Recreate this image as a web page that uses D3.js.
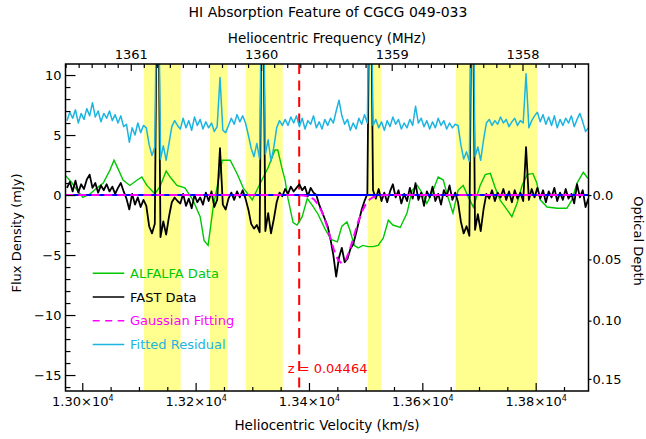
<!DOCTYPE html>
<html><head><meta charset="utf-8">
<script src="https://cdn.jsdelivr.net/npm/d3@7/dist/d3.min.js"></script>
<style>body{margin:0;background:#fff}svg text{font-family:"DejaVu Sans",sans-serif}</style>
</head><body><svg id="c" width="646" height="439"></svg>
<script>
// ---------- data ----------
const velStart = 12973, velStep = 5;   // FAST channel grid (km/s)
const fastFlux = [
 0.6,1.1,0.3,1.2,0.2,0.9,0.5,1.3,1.7,0.6,
 1.0,0.2,0.8,0.4,0.9,0.3,0.7,0.1,0.6,1.0,
 0.3,-0.3,-1.2,0.1,-0.8,-0.2,-1.0,-0.4,-0.9,-2.6,
 -3.2,-2.4,25,-3.5,-2.2,-3.3,-1.8,-0.6,-0.2,-0.5,
 -0.7,0.1,-0.9,-0.3,-1.1,0.0,-0.6,-0.2,-0.8,0.2,
 -0.5,0.3,-1.0,-0.4,3.9,-0.8,-1.2,-0.3,0.2,-0.4,
 0.3,-0.2,0.4,-0.3,-1.2,-2.4,-2.8,-2.5,-3.1,25,
 -3.0,-1.5,-3.2,-2.0,-0.6,0.2,-0.1,0.5,0.1,0.7,
 0.3,0.6,0.9,0.4,0.7,-0.1,0.6,0.2,0.0,-0.8,
 -1.4,-2.0,-2.6,-3.7,-5.0,-6.8,-5.2,-4.4,-5.6,-5.3,
 -4.5,-4.1,-3.2,-2.2,-1.2,-0.5,0.1,25,0.4,-0.3,
 0.5,-0.5,0.2,-0.6,0.3,0.9,-0.2,0.4,-0.7,0.1,
 -0.5,0.6,-0.3,1.0,-0.4,0.2,-0.9,0.3,-0.2,0.7,
 -0.5,0.1,-0.8,0.4,-0.1,0.8,-0.4,0.2,-0.6,-2.2,
 -3.2,-2.6,-3.4,25,-2.9,-1.6,-3.0,-1.2,0.1,-0.3,
 0.4,-0.5,0.2,-0.2,0.5,-0.4,0.3,-0.6,0.4,-0.3,
 0.2,-0.5,4.0,-0.4,0.5,-0.2,0.6,-0.3,0.4,-0.6,
 0.3,-0.2,0.6,-0.5,0.2,-0.4,0.5,-0.3,0.1,-0.7,
 0.9,-0.2,0.4,-1.0,-0.3];
const residualFlux = [
 6.2,6.9,6.4,7.1,6.0,6.8,6.3,7.2,6.6,7.7,
 6.5,7.0,6.1,6.8,6.4,7.0,6.2,6.7,6.0,6.6,
 5.7,5.9,4.4,5.6,5.0,6.0,5.2,5.8,5.6,4.2,
 3.3,4.0,25,3.0,4.1,2.9,4.3,5.7,6.2,5.8,
 5.5,6.4,5.6,6.2,5.4,6.5,5.8,6.3,5.5,6.1,
 5.6,6.0,5.3,5.7,9.8,5.4,5.2,5.8,6.4,5.9,
 6.7,6.1,6.6,6.0,5.0,3.9,3.2,4.3,3.0,25,
 3.4,4.6,2.8,4.0,5.6,6.2,5.8,6.3,5.8,6.5,
 6.0,6.6,5.7,6.4,5.5,6.2,5.9,6.6,5.6,6.1,
 5.5,6.3,5.8,6.4,6.0,7.0,7.9,6.6,5.9,6.3,
 5.4,6.0,5.5,6.4,5.9,6.7,6.0,25,5.8,6.3,
 5.6,6.1,5.4,6.2,5.7,6.5,5.9,6.3,5.5,6.0,
 5.6,6.3,5.8,7.4,6.0,6.4,5.7,6.2,5.5,6.1,
 5.6,6.4,5.8,6.2,5.5,6.0,5.6,5.9,5.8,4.2,
 3.0,3.6,2.8,25,3.2,4.0,2.9,4.6,6.0,6.3,
 5.8,6.2,5.9,6.5,6.0,6.3,5.7,6.1,6.4,5.8,
 6.2,6.0,10.1,5.6,6.2,6.6,6.9,6.1,6.7,5.9,
 6.5,5.8,6.6,5.6,6.3,5.8,6.4,6.0,6.6,5.7,
 6.3,6.8,6.1,5.3,5.6];
const alfalfaVel = [12971,12982,12991,13001,13014,13026,13037,13049,13056,13063,
 13072,13084,13097,13105,13114,13128,13137,13148,13155,13167,
 13181,13195,13208,13215,13222,13231,13247,13261,13273,13284,
 13292,13300,13308,13317,13328,13340,13345,13352,13358,13363,
 13372,13379,13388,13397,13405,13416,13428,13439,13450,13458,
 13467,13472,13480,13487,13495,13504,13513,13522,13531,13540,
 13548,13561,13573,13582,13591,13600,13608,13617,13628,13637,
 13645,13654,13663,13672,13681,13690,13702,13711,13720,13728,
 13737,13750,13758,13767,13776,13785,13795,13802,13808,13820,
 13838,13855,13864,13873,13884,13892];
const alfalfaFlux = [1.6,1.0,0.4,-0.2,0.1,0.6,1.0,2.1,2.9,2.2,
 1.25,0.8,1.25,1.5,0.8,0.1,0.7,2.0,1.5,0.8,
 0.6,-0.4,-1.8,-3.8,-4.2,-1.0,2.9,2.9,1.8,0.6,
 0.1,-0.4,0.4,1.25,2.3,3.75,3.75,2.3,1.2,-0.3,
 -2.3,-2.5,-1.8,-0.3,-0.8,-1.6,-2.8,-3.7,-3.9,-2.6,
 -2.25,-2.9,-4.2,-4.4,-4.2,-4.3,-4.3,-4.2,-3.6,-2.1,
 -2.5,-2.7,-1.5,0.4,0.8,0.15,-0.7,0.15,1.5,1.25,
 -0.15,-1.5,0.4,0.8,-0.15,-1.0,0.8,1.7,1.8,0.7,
 -0.4,-1.25,-1.8,-0.7,0.8,1.7,1.8,1.0,-0.4,-1.0,
 -1.1,-1.1,-0.4,1.0,1.9,1.4];
const gaussVel = [12970,13379,13391,13402,13409,13416,13423,13430,13437,13444,13451,13458,
 13465,13472,13479,13486,13493,13500,13507,13514,13525,13537,13895];
const gaussFlux = [0,0,-0.04,-0.16,-0.37,-0.77,-1.42,-2.34,-3.46,-4.56,-5.39,-5.7,
 -5.39,-4.56,-3.46,-2.34,-1.42,-0.77,-0.37,-0.16,-0.04,0,0];
const rfiStart = [13108.9,13225.4,13288.4,13503.6,13659.5];
const rfiEnd   = [13173.6,13256.6,13353.6,13527.1,13802.9];
const velTicks = [13000,13200,13400,13600,13800];
const freqTicks = [1361,1360,1359,1358];
const fluxTicks = [10,5,0,-5,-10,-15];
const tauTicks = [0,0.05,0.10,0.15];
const tauLabels = ["0.0","0.05","0.10","0.15"];
const zSys = 0.04464;
const continuum = 110; // mJy, continuum flux used for optical depth axis
const legendNames = ["ALFALFA Data","FAST Data","Gaussian Fitting","Fitted Residual"];

// ---------- layout ----------
const L=65.5,R=588.5,T=64,B=391;
const C_KMS=299792.458, F0=1420.405751;
const freqToVel = f => C_KMS*(F0/f-1);
const tauToFlux = t => -continuum*(1-Math.exp(-t));
const x = d3.scaleLinear().domain([12970.4,13893.2]).range([L,R]);
const y = d3.scaleLinear().domain([-16.33,10.92]).range([B,T]);

const COL = {green:"#00c800", black:"#000", mag:"#ff00ff", cyan:"#1cb4e0", blue:"#0000ff", red:"#ff0000", yellow:"#ffff8f"};

const svg = d3.select("#c");
svg.append("defs").append("clipPath").attr("id","clip")
  .append("rect").attr("x",L).attr("y",T).attr("width",R-L).attr("height",B-T);
const plot = svg.append("g").attr("clip-path","url(#clip)");

// bands
plot.selectAll("rect.band").data(rfiStart.map((s,i)=>[s,rfiEnd[i]])).join("rect")
  .attr("class","band").attr("x",d=>x(d[0])).attr("width",d=>x(d[1])-x(d[0]))
  .attr("y",T).attr("height",B-T).attr("fill",COL.yellow);

const line = d3.line().x(d=>x(d[0])).y(d=>y(d[1]));
const fastData = fastFlux.map((f,i)=>[velStart+i*velStep,f]);
const resData = residualFlux.map((f,i)=>[velStart+i*velStep,f]);
const alfData = alfalfaVel.map((v,i)=>[v,alfalfaFlux[i]]);
const gData = gaussVel.map((v,i)=>[v,gaussFlux[i]]);

// redshift line
const vSys = zSys*C_KMS;
plot.append("line").attr("x1",x(vSys)).attr("x2",x(vSys)).attr("y1",T).attr("y2",B)
  .attr("stroke",COL.red).attr("stroke-width",2).attr("stroke-dasharray","10,6.5");

plot.append("path").datum(alfData).attr("d",line).attr("fill","none").attr("stroke",COL.green).attr("stroke-width",1.4);
plot.append("path").datum(fastData).attr("d",line).attr("fill","none").attr("stroke",COL.black).attr("stroke-width",1.8).attr("stroke-linejoin","round");
plot.append("path").datum(resData).attr("d",line).attr("fill","none").attr("stroke",COL.cyan).attr("stroke-width",1.5).attr("stroke-linejoin","round");
plot.append("line").attr("x1",L).attr("x2",R).attr("y1",y(0)).attr("y2",y(0)).attr("stroke",COL.blue).attr("stroke-width",2);
plot.append("path").datum(gData).attr("d",line).attr("fill","none").attr("stroke",COL.mag).attr("stroke-width",2).attr("stroke-dasharray","8,5");

// ---------- axes ----------
const fs = 13;
function styleAxis(g){ g.selectAll("text").attr("font-size",fs).attr("fill","#000").attr("font-family","DejaVu Sans"); g.selectAll("line").attr("stroke","#000").attr("stroke-width",1.2); g.select(".domain").remove(); }

// left
svg.append("g").attr("transform",`translate(${L},0)`)
  .call(d3.axisLeft(y).tickValues(fluxTicks).tickSizeInner(-10).tickSizeOuter(0).tickPadding(4))
  .call(styleAxis);
svg.append("g").attr("transform",`translate(${L},0)`)
  .call(d3.axisLeft(y).tickValues(d3.range(-16,11).filter(v=>v%5!==0)).tickSizeInner(-5).tickSizeOuter(0).tickFormat(""))
  .call(styleAxis);
// right (optical depth)
svg.append("g").attr("transform",`translate(${R},0)`)
  .call(d3.axisRight(y).tickValues(tauTicks.map(tauToFlux)).tickFormat((d,i)=>tauLabels[i]).tickSizeInner(3).tickSizeOuter(0).tickPadding(1))
  .call(styleAxis);
// bottom
const gb = svg.append("g").attr("transform",`translate(0,${B})`)
  .call(d3.axisBottom(x).tickValues(velTicks).tickSizeInner(-8).tickSizeOuter(0).tickPadding(5.8))
  .call(styleAxis);
gb.selectAll(".tick text").each(function(d){
  const t = d3.select(this); t.text("");
  t.append("tspan").text((d/1e4).toFixed(2)+"×10");
  t.append("tspan").attr("font-size",8).attr("dy","-0.6em").text("4");
});
svg.append("g").attr("transform",`translate(0,${B})`)
  .call(d3.axisBottom(x).tickValues(d3.range(12975,13893,25).filter(v=>v%50===0 && v%200!==0)).tickSizeInner(-4).tickSizeOuter(0).tickFormat(""))
  .call(styleAxis);
// top (frequency)
svg.append("g").attr("transform",`translate(0,${T})`)
  .call(d3.axisTop(x).tickValues(freqTicks.map(freqToVel)).tickFormat((d,i)=>freqTicks[i]).tickSizeInner(-7).tickSizeOuter(0).tickPadding(5))
  .call(styleAxis);
svg.append("g").attr("transform",`translate(0,${T})`)
  .call(d3.axisTop(x).tickValues(d3.range(13576,13616).filter(v=>v%10!==0).map(v=>freqToVel(v/10))).tickSizeInner(-4).tickSizeOuter(0).tickFormat(""))
  .call(styleAxis);

// frame
svg.append("rect").attr("x",L).attr("y",T).attr("width",R-L).attr("height",B-T)
  .attr("fill","none").attr("stroke","#000").attr("stroke-width",1.5);

// titles
svg.append("text").attr("x",328).attr("y",17).attr("text-anchor","middle").attr("font-size",14).text("HI Absorption Feature of CGCG 049-033");
svg.append("text").attr("x",327).attr("y",43).attr("text-anchor","middle").attr("font-size",13.5).text("Heliocentric Frequency (MHz)");
svg.append("text").attr("x",327).attr("y",430).attr("text-anchor","middle").attr("font-size",13.5).text("Heliocentric Velocity (km/s)");
svg.append("text").attr("transform","translate(21,233) rotate(-90)").attr("text-anchor","middle").attr("font-size",13).text("Flux Density (mJy)");
svg.append("text").attr("transform","translate(634,241) rotate(90)").attr("text-anchor","middle").attr("font-size",13).text("Optical Depth");

// redshift label
svg.append("text").attr("x",x(vSys)-11.5).attr("y",373).attr("font-size",13).attr("fill",COL.red).text(`z = ${zSys}`);

// legend
const legCols=[COL.green,COL.black,COL.mag,COL.cyan];
const legDash=[null,null,"7,5.5",null];
const lg = svg.append("g");
legendNames.forEach((n,i)=>{
  const yy = 273.3 + i*23.7;
  lg.append("line").attr("x1",92.7).attr("x2",124.3).attr("y1",yy).attr("y2",yy)
    .attr("stroke",legCols[i]).attr("stroke-width",1.5).attr("stroke-dasharray",legDash[i]);
  lg.append("text").attr("x",130).attr("y",yy+4.7).attr("font-size",13).attr("fill",legCols[i]).text(n);
});
</script></body></html>
